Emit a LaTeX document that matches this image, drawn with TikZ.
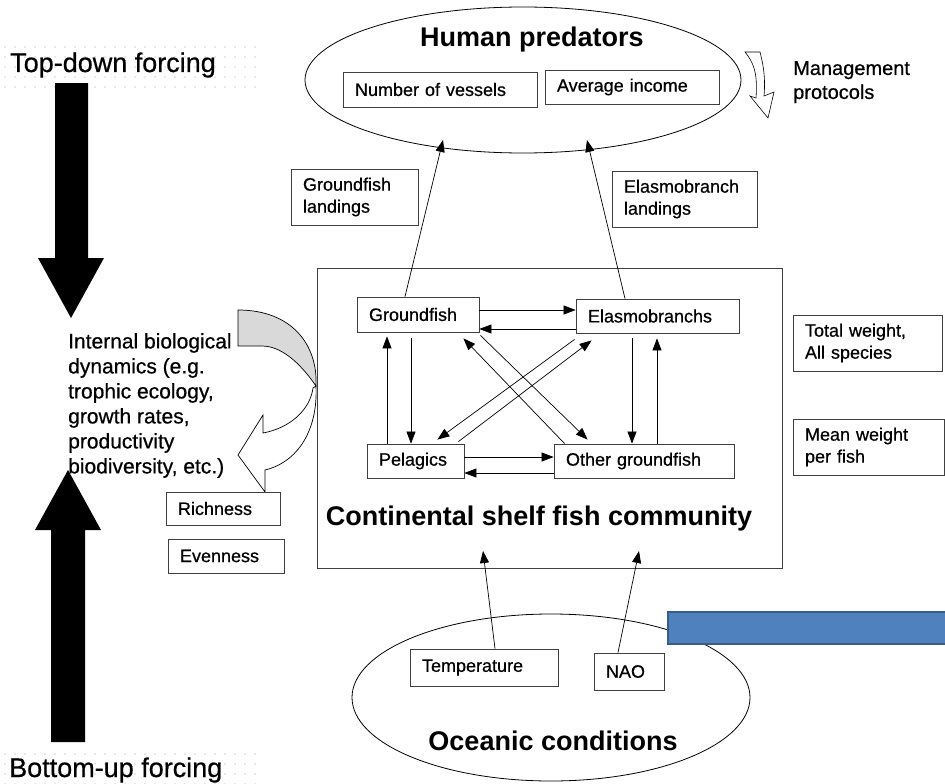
\documentclass[tikz,border=0pt]{standalone}
\usepackage{fontspec}
\setmainfont{Liberation Sans}
\newfontfamily\labelfont[FakeBold=0.6]{Liberation Sans}
\usetikzlibrary{shapes.geometric,arrows.meta}

\begin{document}
\begin{tikzpicture}[x=1pt, y=-1pt,
        box/.style={draw=black!75, line width=0.8pt, fill=white, align=left, inner xsep=12pt, inner ysep=0pt, font=\labelfont\fontsize{18}{22}\selectfont},
        heading/.style={font=\fontsize{27}{32}\selectfont\bfseries, inner sep=0pt, anchor=base},
        forcing/.style={font=\labelfont\fontsize{27}{32}\selectfont, inner sep=0pt, anchor=base west},
        region/.style={draw, ellipse, line width=0.8pt, inner sep=0pt},
        arr/.style={-{Triangle[length=12pt,width=9pt]}, line width=0.7pt}
    ]
        \useasboundingbox (0,0) rectangle (945,784);

        % dotted bands behind the forcing labels
        \foreach \x in {5,15,...,255} {
            \foreach \y in {47,57,...,87} \fill[gray!35] (\x,\y) circle (0.8pt);
            \foreach \y in {754,764,...,784} \fill[gray!35] (\x,\y) circle (0.8pt);
        }
        \node[forcing] (topdown) at (10,72) {Top-down forcing};
        \node[forcing] (bottomup) at (9,777) {Bottom-up forcing};
        \fill (55,83) -- (88,83) -- (88,258) -- (104,258) -- (71,318) -- (38,258) -- (55,258) -- cycle;
        \fill (51,742) -- (85,742) -- (85,530) -- (101,530) -- (68,470) -- (35,530) -- (51,530) -- cycle;

        % human predators
        \node[region, minimum width=436, minimum height=146] (humans) at (523,80) {};
        \node[heading] (humanstitle) at (532,47) {Human predators};
        \node[box, text width=170, minimum height=35] (vessels) at (440,89.5) {Number of vessels};
        \node[box, text width=150, minimum height=34] (income) at (632,87) {Average income};
        \node[anchor=north west, align=left, inner sep=0pt, font=\labelfont\fontsize{20}{24}\selectfont] (mgmt) at (793,61) {Management\\protocols};
        \filldraw[fill=white, line width=0.6pt] (745,52) .. controls (753,62) and (758,72) .. (756,98) -- (750,96) -- (768,118) -- (774,92) -- (764,96) .. controls (766,75) and (762,60) .. (760,52) -- cycle;

        \node[box, text width=103, minimum height=56] (gflanding) at (354.5,197) {Groundfish\\landings};
        \node[box, text width=121, minimum height=56] (ellanding) at (684.5,199) {Elasmobranch\\landings};

        % fish community
        \node[draw=black!75, line width=0.8pt, minimum width=465, minimum height=300, inner sep=0pt] (shelf) at (549.5,418) {};
        \node[heading] (shelftitle) at (539,525) {Continental shelf fish community};
        \node[box, text width=98, minimum height=35] (ground) at (418,314.5) {Groundfish};
        \node[box, text width=139, minimum height=34] (elasmo) at (657.5,316) {Elasmobranchs};
        \node[box, text width=73, minimum height=34] (pelagic) at (415.5,461) {Pelagics};
        \node[box, text width=156, minimum height=34] (other) at (644,461) {Other groundfish};

        \node[box, text width=125, minimum height=56] (total) at (867.5,343) {Total weight,\\All species};
        \node[box, text width=127, minimum height=56] (mean) at (868.5,447) {Mean weight\\per fish};

        % internal dynamics
        \node[anchor=north west, align=left, inner sep=0pt, font=\labelfont\fontsize{21}{25}\selectfont] (internal) at (68,333) {Internal biological\\dynamics (e.g.\\trophic ecology,\\growth rates,\\productivity\\biodiversity, etc.)};
        \filldraw[fill=gray!30, line width=0.7pt] (238,310) .. controls (292,310) and (318,345) .. (316,386) .. controls (305,370) and (285,346) .. (262,346) -- (238,346) -- cycle;
        \filldraw[fill=white, line width=0.7pt] (316,386) .. controls (318,430) and (298,462) .. (265,470) -- (265,492) -- (238,455) -- (263,415) -- (263,433) .. controls (290,428) and (310,410) .. (313,388) -- cycle;
        \node[box, text width=90, minimum height=33] (richness) at (223,508.5) {Richness};
        \node[box, text width=92, minimum height=34] (evenness) at (226,556) {Evenness};

        % oceanic conditions
        \node[region, minimum width=398, minimum height=167] (ocean) at (551,697.5) {};
        \node[heading] (oceantitle) at (553,750) {Oceanic conditions};
        \node[box, text width=124, minimum height=37] (temp) at (484,667.5) {Temperature};
        \node[box, text width=46, minimum height=37] (nao) at (629,671.5) {NAO};
        \fill[fill={rgb,255:red,79;green,129;blue,189}] (668,612) rectangle (945,644);
        \draw[draw={rgb,255:red,56;green,93;blue,138}, line width=1.5pt] (945,612) -- (668,612) -- (668,644) -- (945,644);

        \coordinate (humansL) at (443,140);
        \coordinate (humansR) at (587,140);
        \coordinate (shelfL) at (483,551);
        \coordinate (shelfR) at (639,551);

        \draw[arr] ([xshift=-13pt]ground.north) -- (humansL);
        \draw[arr] ([xshift=-32.5pt]elasmo.north) -- (humansR);
        \draw[arr] ([xshift=11pt]temp.north) -- (shelfL);
        \draw[arr] ([xshift=-11pt]nao.north) -- (shelfR);

        \draw[arr] ([yshift=4.5pt]ground.east) -- ([yshift=4.5pt]ground.east -| elasmo.west);
        \draw[arr] ([yshift=-13pt]elasmo.west) -- ([yshift=-13pt]elasmo.west -| ground.east);
        \draw[arr] ([yshift=4pt]pelagic.east) -- ([yshift=4pt]pelagic.east -| other.west);
        \draw[arr] ([yshift=-12pt]other.west) -- ([yshift=-12pt]other.west -| pelagic.east);
        \draw[arr] ([xshift=-7pt,yshift=-6pt]ground.south) -- ([xshift=-4.5pt]pelagic.north);
        \draw[arr] ([xshift=-28.5pt]pelagic.north) -- ([xshift=-31pt,yshift=-4pt]ground.south);
        \draw[arr] ([xshift=-25.5pt,yshift=-5pt]elasmo.south) -- ([xshift=-12pt]other.north);
        \draw[arr] ([xshift=13pt]other.north) -- ([xshift=-0.5pt,yshift=-5pt]elasmo.south);
        \draw[arr] ([xshift=1pt,yshift=-3pt]ground.south east) -- ([xshift=34pt,yshift=4pt]other.north west);
        \draw[arr] ([xshift=11pt]other.north west) -- ([xshift=-16pt,yshift=-6pt]ground.south east);
        \draw[arr] ([xshift=-1pt,yshift=-6pt]elasmo.south west) -- ([xshift=-27pt,yshift=4pt]pelagic.north east);
        \draw[arr] ([xshift=-6pt,yshift=2pt]pelagic.north east) -- ([xshift=16pt,yshift=-7pt]elasmo.south west);
    \end{tikzpicture}
\end{document}
